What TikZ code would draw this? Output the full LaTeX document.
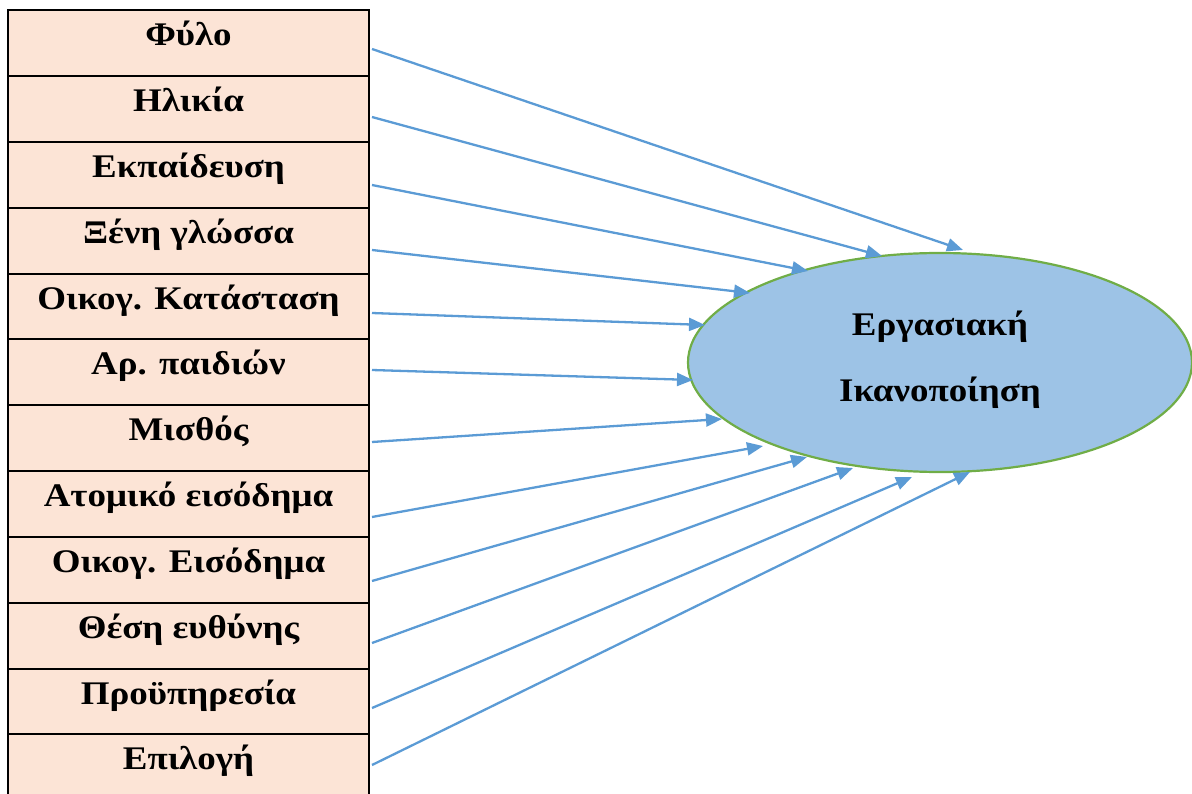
\documentclass[tikz,border=0pt]{standalone}
\usepackage{fontspec}
\setmainfont{Liberation Serif}[FakeStretch=1.12]
\usetikzlibrary{arrows.meta,shapes.geometric}
\definecolor{rowfill}{HTML}{FCE4D6}
\definecolor{satfill}{HTML}{9DC3E6}
\definecolor{satline}{HTML}{70AD47}
\definecolor{arrowblue}{HTML}{5B9BD5}
\tikzset{
  factor/.style={draw=black, line width=2pt, fill=rowfill, rectangle,
    minimum width=361pt, inner xsep=0pt, inner ysep=0pt,
    text height=35.5pt, text depth=30.3pt, font=\bfseries\fontsize{33}{40}\selectfont},
  outcome/.style={ellipse, draw=satline, fill=satfill, line width=2.2pt,
    minimum width=504pt, minimum height=219pt, inner sep=0pt, align=center,
    font=\bfseries\fontsize{33}{40}\selectfont},
  link/.style={draw=arrowblue, line width=2.3pt,
    -{Triangle[length=16pt, width=13pt]}}
}
\begin{document}
\begin{tikzpicture}[x=1pt, y=-1pt]
  \useasboundingbox (0,0) rectangle (1192,794);
  \clip (0,0) rectangle (1192,794);
  % column of factors
  \foreach \t [count=\i] in {Φύλο, Ηλικία, Εκπαίδευση, Ξένη γλώσσα,
      Οικογ. Κατάσταση, Αρ. παιδιών, Μισθός, Ατομικό εισόδημα,
      Οικογ. Εισόδημα, Θέση ευθύνης, Προϋπηρεσία, Επιλογή}
    \node[factor] (r\i) at (188.5, {10.5 + 65.8*(\i-1) + 32.9}) {\t};
  % outcome; the strut on the last line lifts the two lines a little
  \node[outcome] (sat) at (940, 362.5)
    {Εργασιακή\\[26pt]Ικανοποίηση\rule[-13pt]{0pt}{1pt}};
  % arrows from each factor to the outcome
  \foreach \i/\sy/\ex/\ey in {
      1/5.6/23/-112.5, 2/7.8/-58/-106.5, 3/10/-132/-91.5,
      4/9.2/-190/-69.5, 5/6.4/-235/-37.5, 6/-2.4/-247/17.5,
      7/3.8/-218/56.5, 8/13/-177/83.5, 9/11.2/-133/94.5,
      10/7.4/-87/105.5, 11/6.6/-28/114.5, 12/-2.2/30/109.5}
    \draw[link] ([shift={(2,\sy)}]r\i.east) -- ([shift={(\ex,\ey)}]sat.center);
\end{tikzpicture}
\end{document}
